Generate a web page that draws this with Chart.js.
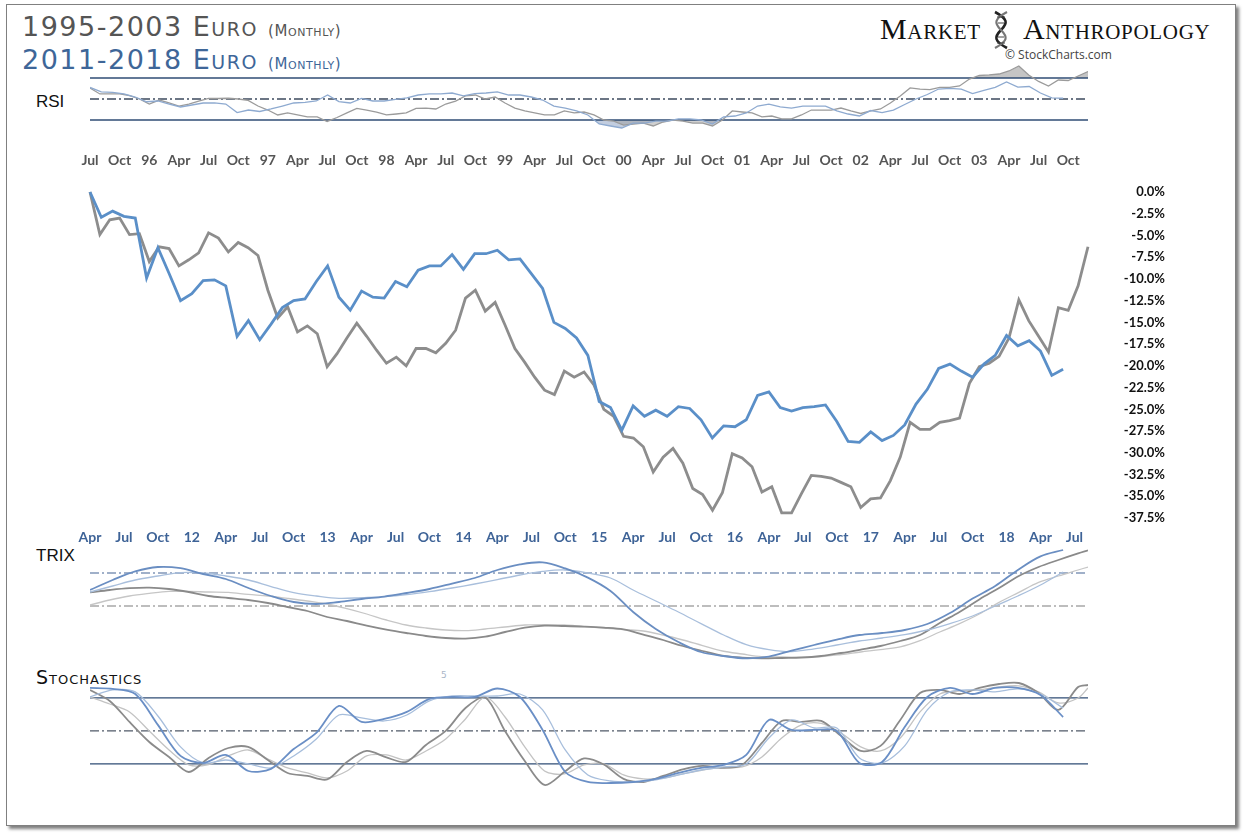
<!DOCTYPE html>
<html>
<head>
<meta charset="utf-8">
<title>Euro 1995-2003 vs 2011-2018 (Monthly)</title>
<script src="https://cdn.jsdelivr.net/npm/chart.js@4.4.1/dist/chart.umd.min.js"></script>
<style>
  body { margin: 0; background: #fff; }
  #page { position: relative; width: 1246px; height: 835px; overflow: hidden; background: #fff; }
  #frame { position: absolute; left: 6px; top: 4px; width: 1228px; height: 820px; border: 1px solid #808080; box-shadow: 3px 3px 3px rgba(0,0,0,0.5); }
  canvas { position: absolute; }
  .title { position: absolute; left: 22px; font-family: "DejaVu Sans", sans-serif; font-size: 27px; line-height: 27px; font-variant: small-caps; letter-spacing: 1.5px; white-space: nowrap; }
  .title .sub { font-size: 15px; letter-spacing: 0.6px; }
  .panel-label { position: absolute; left: 36px; font-family: "Liberation Sans", Arial, sans-serif; font-size: 17px; color: #111; }
  #brand { position: absolute; top: 12px; left: 880px; font-family: "Liberation Serif", serif; font-size: 30px; font-variant: small-caps; color: #111; white-space: nowrap; letter-spacing: 0.7px; }
  #credit { position: absolute; top: 46px; left: 1005px; font-family: "Open Sans", sans-serif; font-size: 12px; color: #444; }
</style>
</head>
<body>
<div id="page">
  <div id="frame"></div>
  <div class="title" style="top:13px;color:#555;">1995-2003 Euro <span class="sub">(Monthly)</span></div>
  <div class="title" style="top:46px;color:#3e6698;">2011-2018 Euro <span class="sub">(Monthly)</span></div>
  <div id="brand">Market<span style="display:inline-block;width:42px;"></span>Anthropology</div>
  <svg style="position:absolute;left:992px;top:10px;" width="18" height="40" viewBox="0 0 18 40">
    <path d="M3 2 C16 9,16 13,9 20 C2 27,2 31,15 38" fill="none" stroke="#222" stroke-width="2.6"/>
    <path d="M15 2 C2 9,2 13,9 20 C16 27,16 31,3 38" fill="none" stroke="#777" stroke-width="2.2"/>
    <path d="M5 7 H13 M6 13 H12 M6 27 H12 M5 33 H13" stroke="#444" stroke-width="1.2"/>
  </svg>
  <div id="credit">&copy; StockCharts.com</div>
  <div class="panel-label" style="top:92px;">RSI</div>
  <div class="panel-label" style="top:546px;">TRIX</div>
  <div class="panel-label" style="top:666px;font-family:'DejaVu Sans',sans-serif;font-size:19px;font-variant:small-caps;letter-spacing:1px;">Stochastics</div>
  <div style="position:absolute;left:441px;top:670px;font:9px 'DejaVu Sans',sans-serif;color:#aab6c8;">5</div>

  <canvas id="rsiChart" width="998" height="84" style="left:90px;top:57px;"></canvas>
  <canvas id="mainChart" width="1246" height="420" style="left:0;top:140px;"></canvas>
  <canvas id="trixChart" width="998" height="120" style="left:90px;top:545px;"></canvas>
  <canvas id="stochChart" width="998" height="120" style="left:90px;top:672px;"></canvas>
</div>

<script>
// ---- data: 1995-2003 (gray, monthly from Jul 1995) and 2011-2018 (blue, monthly from Apr 2011)
const grayTickLabels = ["Jul", "Oct", "96", "Apr", "Jul", "Oct", "97", "Apr", "Jul", "Oct", "98", "Apr",
  "Jul", "Oct", "99", "Apr", "Jul", "Oct", "00", "Apr", "Jul", "Oct", "01", "Apr", "Jul", "Oct", "02",
  "Apr", "Jul", "Oct", "03", "Apr", "Jul", "Oct"];
const blueTickLabels = ["Apr", "Jul", "Oct", "12", "Apr", "Jul", "Oct", "13", "Apr", "Jul", "Oct", "14",
  "Apr", "Jul", "Oct", "15", "Apr", "Jul", "Oct", "16", "Apr", "Jul", "Oct", "17", "Apr", "Jul", "Oct",
  "18", "Apr", "Jul"];

// % change from start
const grayPrice = [0, -4.9, -3.2, -3.0, -4.9, -4.8, -8.0, -6.3, -6.5, -8.5, -7.8, -7.0, -4.7, -5.3, -6.9,
  -5.8, -6.4, -7.3, -11.3, -14.5, -13.2, -16.1, -15.4, -16.3, -20.1, -18.6, -16.8, -15.1, -16.6, -18.2,
  -19.7, -19.0, -20.0, -18.0, -18.0, -18.5, -17.4, -15.9, -12.2, -11.3, -13.7, -12.7, -15.3, -18.0, -19.6,
  -21.3, -22.8, -23.3, -20.6, -21.3, -20.7, -22.2, -25.0, -25.8, -28.1, -28.3, -29.3, -32.2, -30.5, -29.5,
  -31.2, -34.1, -34.8, -36.6, -34.6, -30.1, -30.6, -31.6, -34.5, -33.9, -36.9, -36.9, -34.7, -32.6, -32.7,
  -32.9, -33.4, -33.9, -36.3, -35.3, -35.2, -33.2, -30.5, -26.5, -27.3, -27.3, -26.5, -26.3, -26.0, -22.0,
  -20.1, -19.7, -18.9, -16.8, -12.4, -14.8, -16.6, -18.4, -13.3, -13.6, -10.8, -6.3];
const bluePrice = [0, -2.9, -2.2, -2.8, -3.0, -9.9, -6.4, -9.4, -12.5, -11.7, -10.2, -10.1, -10.8, -16.6,
  -14.8, -17.0, -15.2, -13.3, -12.5, -12.3, -10.3, -8.5, -12.1, -13.6, -11.4, -12.1, -12.2, -10.3, -10.9,
  -9.0, -8.5, -8.5, -7.2, -8.9, -7.1, -7.1, -6.7, -7.8, -7.7, -9.4, -11.1, -15.0, -15.7, -16.8, -18.8,
  -24.1, -24.8, -27.4, -24.6, -25.8, -25.1, -25.8, -24.7, -24.9, -26.2, -28.3, -26.9, -27.0, -26.2, -23.4,
  -23.0, -24.8, -25.2, -24.8, -24.7, -24.5, -26.4, -28.7, -28.8, -27.6, -28.6, -28.0, -26.8, -24.4, -22.7,
  -20.3, -19.8, -20.6, -21.3, -19.8, -18.8, -16.5, -17.7, -17.1, -18.3, -21.1, -20.4];

const grayRsi = [60.5, 54.8, 54.8, 54.8, 53.3, 50, 45.2, 49, 46.2, 43.3, 45.2, 48, 50.5, 50.5, 50.7, 50,
  48.6, 43.3, 39.5, 34.8, 36.7, 34.8, 32.9, 32.9, 28.6, 32.4, 36.7, 41, 39.5, 37.6, 34.8, 35.7, 36.7, 41,
  41.4, 40.5, 45.2, 48, 52.9, 53.8, 50, 51.9, 46.2, 41.4, 38.6, 36.7, 34.8, 34.8, 38.6, 36.7, 37.6, 34.8,
  30, 29, 25.2, 26.2, 27.1, 24.3, 28.1, 30, 29, 27.1, 27.1, 24.3, 30, 38.6, 37.6, 36.7, 32.9, 33.8, 31, 31,
  34.8, 39.5, 39.5, 39.5, 41.4, 38.6, 36.2, 38.6, 40.5, 46.2, 52.9, 60.5, 59.5, 59, 61, 61, 62.4, 69, 72.4,
  72.9, 73.8, 76.7, 81.4, 72.9, 66.7, 62.4, 68.1, 67.6, 71.9, 76.2];
const blueRsi = [61, 56.7, 56.4, 54.8, 51.9, 47.4, 48.1, 45.2, 42.4, 44.3, 46.2, 46.4, 45.2, 37.1, 39.5,
  38.1, 40.5, 43.3, 46.2, 46.7, 48.1, 53.8, 47.6, 46.2, 50.5, 48.1, 48.1, 49.7, 51, 53.8, 54.8, 54.8, 55.7,
  52.9, 55.2, 55.7, 56.7, 53.8, 53.8, 51.9, 49, 43.3, 41.4, 38.6, 34.8, 26.2, 24.3, 22.4, 27.1, 27.1, 29,
  29, 31, 31, 30, 26.2, 32.9, 33.8, 36.7, 43.3, 45.2, 42.4, 41.4, 43.3, 43.3, 43.3, 38.6, 35.7, 33.8, 39,
  37.1, 39.5, 44.8, 50, 54.3, 59.5, 60.2, 59.5, 55.2, 58.1, 61, 66.2, 61.4, 61.9, 55.7, 51, 50.7];

// indicators read every 2nd month (gray: months 0..100 and 101, blue: months 0..86)
const grayTrix = [0.68, 0.8, 0.89, 0.92, 0.85, 0.7, 0.5, 0.4, 0.3, 0.15, -0.05, -0.25, -0.55, -0.75,
  -0.98, -1.18, -1.35, -1.5, -1.6, -1.63, -1.53, -1.3, -1.08, -0.98, -1.0, -1.03, -1.08, -1.17, -1.43, -1.7,
  -2.0, -2.25, -2.48, -2.58, -2.62, -2.6, -2.58, -2.5, -2.35, -2.18, -2.0, -1.75, -1.45, -0.85, -0.3, 0.33,
  0.9, 1.5, 1.95, 2.3, 2.63, 2.78];
const grayTrixSignal = [0.05, 0.3, 0.5, 0.63, 0.73, 0.73, 0.7, 0.68, 0.58, 0.5, 0.38, 0.25, 0.1, -0.13,
  -0.4, -0.7, -0.95, -1.1, -1.2, -1.23, -1.15, -1.05, -0.95, -0.93, -0.95, -1.03, -1.1, -1.18, -1.25, -1.45,
  -1.7, -1.98, -2.25, -2.4, -2.53, -2.55, -2.55, -2.53, -2.43, -2.3, -2.18, -2.04, -1.73, -1.3, -0.88, -0.4,
  0.18, 0.68, 1.18, 1.5, 1.8, 1.95];
const blueTrix = [-0.85, -0.35, 0.08, 0.3, 0.24, -0.05, -0.3, -0.75, -1.15, -1.45, -1.55, -1.45, -1.3,
  -1.18, -1.0, -0.8, -0.53, -0.25, 0.15, 0.43, 0.53, 0.23, -0.23, -0.9, -1.95, -2.8, -3.45, -3.95, -4.15,
  -4.27, -4.18, -3.88, -3.6, -3.33, -3.1, -3.0, -2.85, -2.55, -2.0, -1.28, -0.65, 0.15, 0.83, 1.15];
const blueTrixSignal = [-0.95, -0.65, -0.35, -0.15, 0.02, 0, -0.15, -0.35, -0.68, -0.98, -1.15, -1.27,
  -1.23, -1.18, -1.08, -0.93, -0.75, -0.55, -0.33, -0.1, 0.08, 0.15, 0, -0.25, -0.85, -1.4, -1.95, -2.53,
  -3.1, -3.58, -3.83, -3.93, -3.79, -3.6, -3.4, -3.25, -3.08, -2.85, -2.53, -2.15, -1.65, -1.15, -0.6, 0.05];

const grayStochK = [87.3, 77.3, 58.2, 40, 26.4, 12.7, 25.5, 34.5, 35.5, 23.6, 11.8, 9.1, 5.9, 21.8, 31.8,
  25.9, 21.8, 37.3, 50, 70.9, 80.5, 50, 22.7, 0.9, 12.7, 25, 19.5, 6.4, 3.6, 9.1, 15, 18.2, 16.4, 19.1,
  39.1, 59.1, 58.2, 59.1, 45.5, 31.8, 36.4, 60, 84.5, 87.3, 83.6, 89.1, 92.7, 93.6, 84.5, 69.1, 90, 91.8];
const grayStochD = [80.9, 74.5, 67.3, 50, 32.7, 19.1, 19.5, 27.3, 32.7, 24.5, 16.4, 11.8, 7.3, 13.6, 27.3,
  28.2, 23.6, 31.8, 42.7, 60.9, 80.9, 62.7, 35.5, 13.6, 10.9, 19.1, 20, 10, 6.4, 7.3, 10.9, 14.5, 16.8, 17.3,
  26.4, 43.6, 55.5, 56.8, 48.2, 35.5, 31.8, 43.6, 67.3, 83.6, 86.4, 87.3, 90, 90.9, 85.5, 75.5, 80, 89.1];
const blueStochK = [89.1, 88.2, 83.6, 55.5, 27.3, 20.9, 28.2, 13.6, 15.5, 33.6, 48.2, 72.7, 58.2, 60.9,
  67.3, 79.1, 80.9, 80.9, 88.6, 80.9, 50.9, 12.7, 3.6, 2.7, 3.6, 6.4, 11.8, 16.4, 19.1, 28.2, 60, 50.9, 50.9,
  50, 20.9, 21.8, 53.6, 80.9, 89.1, 83.6, 89.1, 89.1, 82.7, 62.7];
const blueStochD = [80.9, 87.3, 85.5, 63.6, 35.5, 20.9, 23.6, 20, 16.4, 27.3, 42.7, 64.5, 61.8, 59.1,
  64.5, 77.3, 81.8, 81.8, 81.8, 83.6, 69.1, 32.7, 10, 4.5, 3.6, 5.5, 10, 14.5, 17.3, 20, 43.6, 60, 52.7,
  52.7, 25.5, 20.9, 36.4, 69.1, 85.5, 87.3, 85.5, 88.2, 83.6, 70.9];

const rsiLevels = [70, 50, 30];
const stochLevels = [80, 50, 20];

// month positions
const grayLastMonth = 101;
const blueAxisEnd = 88.2;
const grayTickMonths = grayTickLabels.map((_, i) => i * 3);
const blueTickMonths = blueTickLabels.map((_, i) => i * 3);
const grayIndMonths = grayTrix.map((_, k) => Math.min(k * 2, grayLastMonth));
const blueIndMonths = blueTrix.map((_, k) => k * 2);

Chart.defaults.animation = false;
Chart.defaults.responsive = false;
Chart.defaults.plugins.legend.display = false;
Chart.defaults.plugins.tooltip.enabled = false;
Chart.defaults.font.family = "Lato, sans-serif";

const DASH_DOT = [9, 3, 2, 3];

function toPoints(values, months) {
  return values.map((v, i) => ({ x: months ? months[i] : i, y: v }));
}

function series(points, color, width, xAxisID, yAxisID, extra) {
  return Object.assign({
    data: points, borderColor: color, borderWidth: width, pointRadius: 0,
    fill: false, xAxisID, yAxisID, clip: false, order: 1,
  }, extra || {});
}

function levelLine(level, color, width, yAxisID, dash) {
  return {
    data: [{ x: 0, y: level }, { x: grayLastMonth, y: level }],
    borderColor: color, borderWidth: width, borderDash: dash || [],
    pointRadius: 0, fill: false, xAxisID: "xg", yAxisID, order: 5,
  };
}

function hiddenAxes(yAxes) {
  const scales = {
    xg: { type: "linear", display: false, min: 0, max: grayLastMonth },
    xb: { type: "linear", display: false, min: 0, max: blueAxisEnd },
  };
  for (const id in yAxes) {
    scales[id] = { type: "linear", display: false, min: yAxes[id][0], max: yAxes[id][1] };
  }
  return scales;
}

// ---- main price panel
new Chart(document.getElementById("mainChart"), {
  type: "line",
  data: {
    datasets: [
      series(toPoints(bluePrice), "#5a8fc8", 2.8, "xb", "y", { order: 1 }),
      series(toPoints(grayPrice), "#8d8d8d", 2.8, "xg", "y", { order: 2 }),
    ],
  },
  options: {
    layout: { padding: { left: 90, right: 81, top: 0, bottom: 0 } },
    scales: {
      xg: {
        type: "linear", position: "top", min: 0, max: grayLastMonth,
        grid: { display: false }, border: { display: false },
        afterBuildTicks: (s) => { s.ticks = grayTickMonths.map((v) => ({ value: v })); },
        afterFit: (s) => { s.height = 52; },
        ticks: {
          autoSkip: false, maxRotation: 0, padding: 15, color: "#555",
          font: { size: 14, weight: "bold" },
          callback: (v, i) => grayTickLabels[i],
        },
      },
      xb: {
        type: "linear", position: "bottom", min: 0, max: blueAxisEnd,
        grid: { display: false }, border: { display: false },
        afterBuildTicks: (s) => { s.ticks = blueTickMonths.map((v) => ({ value: v })); },
        afterFit: (s) => { s.height = 42; },
        ticks: {
          autoSkip: false, maxRotation: 0, padding: 3, color: "#3e6397",
          font: { size: 14, weight: "bold" },
          callback: (v, i) => blueTickLabels[i],
        },
      },
      y: {
        type: "linear", position: "right", min: -37.5, max: 0,
        grid: { display: false }, border: { display: false },
        afterFit: (s) => { s.width = 77; },
        ticks: {
          stepSize: 2.5, crossAlign: "far", padding: 0, color: "#111",
          font: { size: 13, weight: "bold" },
          callback: (v) => v.toFixed(1) + "%",
        },
      },
    },
  },
});

// ---- RSI panel
new Chart(document.getElementById("rsiChart"), {
  type: "line",
  data: {
    datasets: [
      series(toPoints(blueRsi), "#8eaad0", 1.3, "xb", "y", { order: 1 }),
      series(toPoints(grayRsi), "#9b9b9b", 1.3, "xg", "y", { order: 2 }),
      series(toPoints(grayRsi), "rgba(0,0,0,0)", 1, "xg", "y", {
        order: 8, fill: { target: { value: rsiLevels[0] }, above: "rgba(150,150,150,0.55)", below: "rgba(0,0,0,0)" },
      }),
      series(toPoints(grayRsi), "rgba(0,0,0,0)", 1, "xg", "y", {
        order: 8, fill: { target: { value: rsiLevels[2] }, above: "rgba(0,0,0,0)", below: "rgba(150,150,150,0.45)" },
      }),
      series(toPoints(blueRsi), "rgba(0,0,0,0)", 1, "xb", "y", {
        order: 8, fill: { target: { value: rsiLevels[2] }, above: "rgba(0,0,0,0)", below: "rgba(120,145,185,0.45)" },
      }),
      levelLine(rsiLevels[0], "#2f4d75", 1.3, "y"),
      levelLine(rsiLevels[1], "#3c4a5e", 1.5, "y", DASH_DOT),
      levelLine(rsiLevels[2], "#2f4d75", 1.3, "y"),
    ],
  },
  options: { scales: hiddenAxes({ y: [10, 90] }) },
});

// ---- TRIX panel (each period on its own axis, zero lines dash-dot)
new Chart(document.getElementById("trixChart"), {
  type: "line",
  data: {
    datasets: [
      series(toPoints(blueTrix, blueIndMonths), "#6a8ec2", 1.8, "xb", "yb", { order: 1, tension: 0.35 }),
      series(toPoints(blueTrixSignal, blueIndMonths), "#a9bfdc", 1.3, "xb", "yb", { order: 2, tension: 0.35 }),
      series(toPoints(grayTrix, grayIndMonths), "#8a8a8a", 1.8, "xg", "yg", { order: 3, tension: 0.35 }),
      series(toPoints(grayTrixSignal, grayIndMonths), "#c6c6c6", 1.3, "xg", "yg", { order: 4, tension: 0.35 }),
      levelLine(0, "#8197b8", 1.3, "yb", DASH_DOT),
      levelLine(0, "#a8a8a8", 1.3, "yg", DASH_DOT),
    ],
  },
  options: { scales: hiddenAxes({ yb: [-4.6, 1.4], yg: [-2.95, 3.05] }) },
});

// ---- Stochastics panel
new Chart(document.getElementById("stochChart"), {
  type: "line",
  data: {
    datasets: [
      series(toPoints(blueStochK, blueIndMonths), "#6a8fc6", 1.8, "xb", "y", { order: 1, tension: 0.3 }),
      series(toPoints(blueStochD, blueIndMonths), "#a7bedc", 1.3, "xb", "y", { order: 2, tension: 0.3 }),
      series(toPoints(grayStochK, grayIndMonths), "#8b8b8b", 1.8, "xg", "y", { order: 3, tension: 0.3 }),
      series(toPoints(grayStochD, grayIndMonths), "#c3c3c3", 1.3, "xg", "y", { order: 4, tension: 0.3 }),
      levelLine(stochLevels[0], "#2f4d75", 1.2, "y"),
      levelLine(stochLevels[1], "#505a68", 1.3, "y", DASH_DOT),
      levelLine(stochLevels[2], "#2f4d75", 1.2, "y"),
    ],
  },
  options: { scales: hiddenAxes({ y: [-5.5, 103.6] }) },
});
</script>
</body>
</html>
